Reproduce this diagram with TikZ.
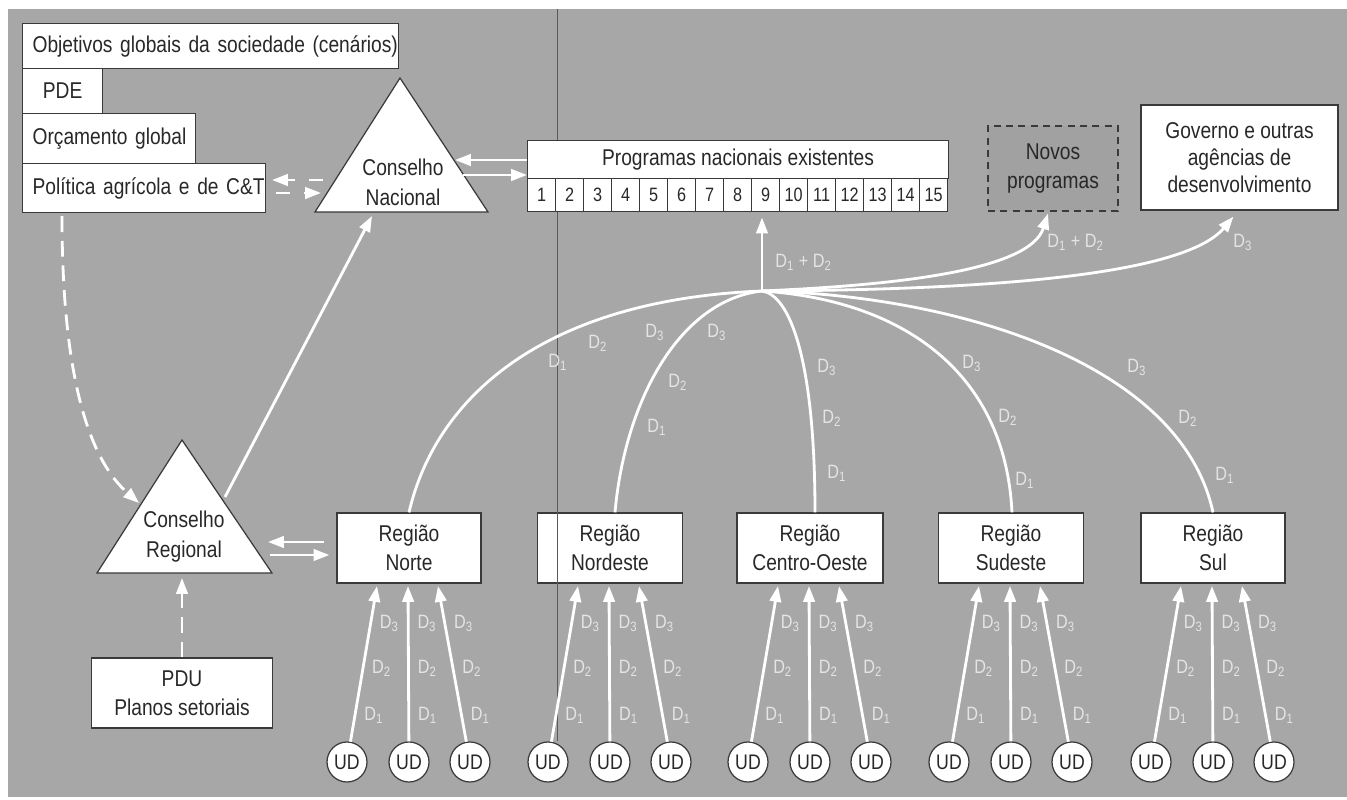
\documentclass[tikz,border=0pt]{standalone}
\usepackage{fontspec}
\setmainfont{Liberation Sans}[FakeStretch=0.84]
\usetikzlibrary{arrows.meta,calc}
\definecolor{bg}{RGB}{167,167,167}
\definecolor{bd}{RGB}{58,58,58}
\definecolor{tx}{RGB}{40,40,40}
\definecolor{lbl}{RGB}{228,228,228}
\definecolor{novo}{RGB}{161,161,161}
\newcommand{\Dl}[1]{D\textsubscript{#1}}
\begin{document}
\begin{tikzpicture}[x=0.02cm,y=-0.02cm,
  box/.style={draw=bd, line width=0.7pt, fill=white, text=tx, font=\fontsize{13}{16.5}\selectfont, inner sep=0pt, align=center},
  lbox/.style={box, anchor=north west, align=left, inner xsep=0.2cm},
  wl/.style={draw=white, line width=1.6pt},
  arr/.style={wl, -{Triangle[length=9pt,width=6.5pt]}},
  darr/.style={arr, dash pattern=on 9pt off 5pt},
  sdarr/.style={arr, dash pattern=on 8pt off 8pt},
  lab/.style={text=lbl, font=\fontsize{11}{12}\selectfont, inner sep=0pt, anchor=west},
  ud/.style={circle, draw=bd, line width=0.7pt, fill=white, text=tx, minimum size=0.8cm, inner sep=0pt, font=\fontsize{12}{12}\selectfont},
  tri/.style={draw=bd, line width=0.7pt, fill=white},
  ttext/.style={text=tx, font=\fontsize{13}{17}\selectfont, align=center, inner sep=0pt},
  crease/.style={line width=0.5pt, draw=black!65},
]
\useasboundingbox (0,0) rectangle (1347,800);
\fill[white] (0,0) rectangle (1347,800);
\fill[bg] (8,9) rectangle (1347,797);

% left stack of boxes
\node[lbox, minimum height=0.9cm, text width=7.12cm] (obj) at (22,23) {\mbox{Objetivos globais da sociedade (cenários)}};
\node[box, anchor=north west, minimum height=0.9cm, minimum width=1.6cm] (pde) at (22,68) {PDE};
\node[lbox, minimum height=1.0cm, text width=3.06cm] (orc) at (22,113) {\mbox{Orçamento global}};
\node[lbox, minimum height=0.98cm, text width=4.46cm] (pol) at (22,163) {\mbox{Política agrícola e de C\&T}};

% Conselho Nacional
\coordinate (cnT) at (400,78);
\coordinate (cnL) at (315,212);
\coordinate (cnR) at (488,212);
\filldraw[tri] (cnT) -- (cnL) -- (cnR) -- cycle;
\node[ttext] (cn) at (403,182) {Conselho\\Nacional};

% Conselho Regional
\coordinate (crT) at (182,440);
\coordinate (crL) at (97,573);
\coordinate (crR) at (272,573);
\filldraw[tri] (crT) -- (crL) -- (crR) -- cycle;
\node[ttext] (cr) at (184,537) {Conselho\\Regional};

% Programas
\node[box, anchor=north west, minimum width=8.42cm, minimum height=0.76cm] (prog) at (527,140) {Programas nacionais existentes};
\foreach \i in {1,...,15}{
  \node[box, anchor=north west, minimum width=0.56cm, minimum height=0.66cm, font=\fontsize{11}{11}\selectfont] (c\i) at ({527+28*(\i-1)},178) {\i};
}

% Novos / Governo
\node[box, fill=novo, dash pattern=on 4pt off 3pt, minimum width=2.6cm, minimum height=1.7cm] (novos) at (1053,168.5) {Novos\\programas};
\node[box, minimum width=3.94cm, minimum height=2.1cm, font=\fontsize{13}{15.3}\selectfont] (gov) at (1239.5,157.5) {Governo e outras\\agências de\\desenvolvimento};

% Regions
\node[box, minimum width=2.88cm, minimum height=1.4cm] (norte) at (409,548) {Região\\Norte};
\node[box, minimum width=2.9cm, minimum height=1.4cm] (nordeste) at (610,548) {Região\\Nordeste};
\node[box, minimum width=2.92cm, minimum height=1.4cm] (centro) at (810,548) {Região\\Centro-Oeste};
\node[box, minimum width=2.9cm, minimum height=1.4cm] (sudeste) at (1011,548) {Região\\Sudeste};
\node[box, minimum width=2.88cm, minimum height=1.4cm] (sul) at (1213,548) {Região\\Sul};

% PDU
\node[box, minimum width=3.62cm, minimum height=1.4cm] (pdu) at (182,693) {PDU\\Planos setoriais};

% crease line of the scanned page
\draw[crease] (557,9) -- (prog.north -| 557,0);
\draw[crease] (c2.south -| 557,0) -- (557,741);

% UD units and arrows
\foreach \r/\cx in {norte/409, nordeste/610, centro/810, sudeste/1011, sul/1213}{
  \node[ud] (\r-ua) at (\cx-62,762) {UD};
  \node[ud] (\r-ub) at (\cx,762) {UD};
  \node[ud] (\r-uc) at (\cx+61,762) {UD};
  \coordinate (\r-ta) at (\cx-32,586);
  \coordinate (\r-tb) at (\cx-1,586);
  \coordinate (\r-tc) at (\cx+29,586);
  \draw[arr] (\r-ua) -- (\r-ta)
    node[lab, pos=0.17, xshift=4.5pt] (\r-a1) {\Dl{1}}
    node[lab, pos=0.47, xshift=4.5pt] (\r-a2) {\Dl{2}}
    node[lab, pos=0.76, xshift=4.5pt] (\r-a3) {\Dl{3}};
  \draw[arr] (\r-ub) -- (\r-tb)
    node[lab, pos=0.17, xshift=4.5pt] (\r-b1) {\Dl{1}}
    node[lab, pos=0.47, xshift=4.5pt] (\r-b2) {\Dl{2}}
    node[lab, pos=0.76, xshift=4.5pt] (\r-b3) {\Dl{3}};
  \draw[arr] (\r-uc) -- (\r-tc)
    node[lab, pos=0.17, xshift=4.5pt] (\r-c1) {\Dl{1}}
    node[lab, pos=0.47, xshift=4.5pt] (\r-c2) {\Dl{2}}
    node[lab, pos=0.76, xshift=4.5pt] (\r-c3) {\Dl{3}};
}

% arrows among councils
\coordinate (crS) at (225,497);
\coordinate (cnB) at (372,216);
\draw[arr] (crS) -- (cnB);
\coordinate (crA) at (268,542);
\coordinate (crB) at (270,555);
\draw[arr, shorten <=7pt] (norte.west |- crA) -- (crA);
\draw[arr, shorten >=4pt] (crB) -- (norte.west |- crB);
\coordinate (cnA) at (455,160);
\coordinate (cnC) at (463,175);
\draw[arr] (prog.west |- cnA) -- (cnA);
\draw[arr] (cnC) -- (prog.west |- cnC);
\coordinate (pdA) at (272,180);
\coordinate (pdB) at (323,180);
\coordinate (pdC) at (276,193);
\coordinate (pdD) at (321,193);
\draw[sdarr] (pdB) -- (pdA);
\draw[sdarr] (pdC) -- (pdD);
\coordinate (crD) at (139,503);
\draw[darr] ($(pol.south west)+(40,3)$) .. controls (62,380) and (90,460) .. (crD);
\coordinate (crE) at (182,578);
\draw[darr] (pdu.north) -- (crE);

% hub and curves
\coordinate (hub) at (762,291);
\draw[arr, shorten >=3pt] (hub) -- (c9.south -| hub);
\draw[wl] (norte.north) .. controls (435,400) and (540,300) .. (hub);
\draw[wl] ($(nordeste.north)+(5,0)$) .. controls (625,400) and (680,300) .. (hub);
\draw[wl] (hub) .. controls (790,295) and (815,360) .. ($(centro.north)+(5,0)$);
\draw[wl] (hub) .. controls (900,300) and (1005,370) .. ($(sudeste.north)+(1,0)$);
\draw[wl] (hub) .. controls (950,295) and (1180,360) .. (sul.north);
\draw[arr] (hub) .. controls (900,285) and (1030,270) .. ($(novos.south)+(-5,2)$);
\draw[arr] (hub) .. controls (950,290) and (1180,280) .. ($(gov.south)+(-6,6)$);

% labels on curves
\node[lab] (lh) at (775,262) {\Dl{1} + \Dl{2}};
\node[lab] (lnv) at (1047,242) {\Dl{1} + \Dl{2}};
\node[lab] (lgv) at (1233,242) {\Dl{3}};
\node[lab] (ln1) at (548,362) {\Dl{1}};
\node[lab] (ln2) at (588,343) {\Dl{2}};
\node[lab] (ln3) at (645,332) {\Dl{3}};
\node[lab] (lne3) at (707,332) {\Dl{3}};
\node[lab] (lne2) at (668,382) {\Dl{2}};
\node[lab] (lne1) at (647,427) {\Dl{1}};
\node[lab] (lc3) at (817,367) {\Dl{3}};
\node[lab] (lc2) at (822,418) {\Dl{2}};
\node[lab] (lc1) at (827,473) {\Dl{1}};
\node[lab] (ls3) at (962,363) {\Dl{3}};
\node[lab] (ls2) at (998,417) {\Dl{2}};
\node[lab] (ls1) at (1015,480) {\Dl{1}};
\node[lab] (lu3) at (1127,367) {\Dl{3}};
\node[lab] (lu2) at (1178,418) {\Dl{2}};
\node[lab] (lu1) at (1215,475) {\Dl{1}};
\end{tikzpicture}
\end{document}
